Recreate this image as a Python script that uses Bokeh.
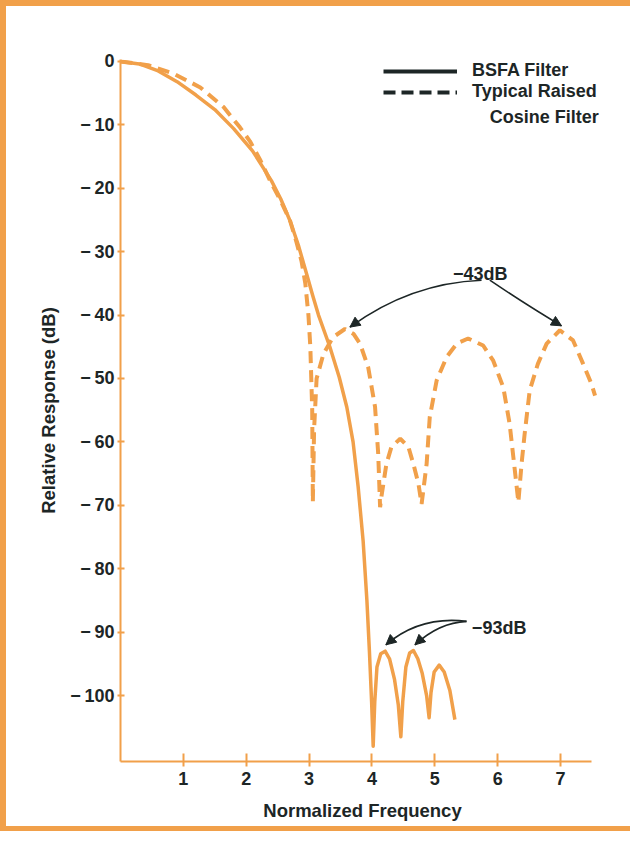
from bokeh.plotting import figure
from bokeh.models import FixedTicker, Legend, LegendItem, Label, Arrow, NormalHead
from bokeh.embed import file_html
from bokeh.resources import INLINE

# ---------------- data ----------------
bsfa_x = [0, 0.3, 0.6, 0.9, 1.2, 1.5, 1.8, 2.1, 2.4, 2.55, 2.7, 2.83, 2.96, 3.06, 3.15, 3.33,
          3.48, 3.60, 3.70, 3.78, 3.86, 3.92, 3.96, 3.995, 4.02, 4.045, 4.08, 4.14, 4.21,
          4.28, 4.36, 4.42, 4.46, 4.49, 4.54, 4.60, 4.66, 4.73, 4.80, 4.87, 4.91, 4.94,
          4.99, 5.07, 5.15, 5.24, 5.32]
bsfa_db = [0, -0.4, -1.5, -3.2, -5.3, -7.6, -10.6, -14.1, -18.8, -21.7, -25.2, -29.0, -33.5,
           -37.0, -40.0, -45.0, -49.8, -54.5, -60.0, -67.0, -75.6, -85.0, -93.0, -101.0,
           -108.0, -101.0, -95.5, -93.4, -93.0, -94.2, -97.5, -101.5, -106.5, -101.0, -95.5,
           -93.3, -92.9, -94.2, -96.5, -100.0, -103.5, -99.5, -96.3, -95.2, -96.3, -99.2,
           -103.8]

rc_x = [0, 0.44, 0.84, 1.27, 1.64, 1.90, 2.06, 2.22, 2.38, 2.55, 2.70, 2.80, 2.88, 2.94,
        2.99, 3.02, 3.05, 3.06, 3.08, 3.12, 3.23, 3.38, 3.57, 3.71, 3.81, 3.94, 4.05, 4.10,
        4.13, 4.15, 4.23, 4.31, 4.45, 4.58, 4.66, 4.74, 4.79, 4.87, 4.92, 5.03, 5.19, 5.35,
        5.53, 5.77, 5.93, 6.09, 6.19, 6.25, 6.33, 6.38, 6.43, 6.51, 6.64, 6.78, 6.99, 7.20,
        7.36, 7.49, 7.55]
rc_db = [0, -0.6, -1.9, -4.1, -7.2, -10.4, -12.6, -15.5, -18.8, -22.0, -25.2, -28.5, -31.5,
         -35.0, -40.0, -45.0, -55.0, -69.5, -58.0, -50.0, -46.1, -43.5, -42.2, -43.0, -44.5,
         -48.2, -54.5, -61.9, -70.3, -68.7, -63.5, -60.8, -59.5, -60.8, -63.5, -66.6, -69.8,
         -63.5, -56.1, -50.3, -46.6, -44.5, -43.7, -44.8, -47.2, -51.4, -57.1, -62.4, -69.5,
         -63.5, -58.7, -51.9, -47.7, -44.5, -42.4, -44.0, -47.7, -50.8, -52.7]

x_ticks = [1, 2, 3, 4, 5, 6, 7]
x_tick_labels = ["1", "2", "3", "4", "5", "6", "7"]
y_ticks = [0, -10, -20, -30, -40, -50, -60, -70, -80, -90, -100]
y_tick_labels = ["0", "\u2212\u200910", "\u2212\u200920", "\u2212\u200930", "\u2212\u200940",
                 "\u2212\u200950", "\u2212\u200960", "\u2212\u200970", "\u2212\u200980",
                 "\u2212\u200990", "\u2212\u2009100"]

legend_labels = ["BSFA Filter", "Typical Raised", "Cosine Filter"]

# annotations: label text / position, curved arrows (start, control, tip)
ann_text = ["\u221243dB", "\u221293dB"]
ann_x = [5.29, 5.59]
ann_y = [-33.5, -89.3]
arr_x0 = [5.744, 5.875, 5.505, 5.505]
arr_y0 = [-34.5, -34.5, -88.3, -88.3]
arr_cx = [4.607, 6.473, 4.767, 5.068]
arr_cy = [-34.96, -38.5, -87.4, -88.5]
arr_x1 = [3.65, 7.016, 4.222, 4.684]
arr_y1 = [-41.9, -41.7, -92.0, -92.0]

# ---------------- style ----------------
ORANGE = "#F1A04A"
INK = "#1d2626"
FONT = "Liberation Sans"

p = figure(width=630, height=831, x_range=(0, 7.7), y_range=(-110.4, 0.3),
           output_backend="svg", toolbar_location=None,
           min_border_left=114, min_border_right=32, min_border_top=53, min_border_bottom=76,
           background_fill_color="white", border_fill_color="white", outline_line_color=None)
p.styles = {"border-left": f"6px solid {ORANGE}", "border-top": f"6px solid {ORANGE}",
            "border-bottom": f"5px solid {ORANGE}"}
p.xgrid.grid_line_color = None
p.ygrid.grid_line_color = None

xa = p.xaxis[0]
ya = p.yaxis[0]
xa.bounds = (0, 7.5)
xa.ticker = FixedTicker(ticks=x_ticks, minor_ticks=[])
ya.ticker = FixedTicker(ticks=y_ticks, minor_ticks=[])
xa.major_label_overrides = {t: l for t, l in zip(x_ticks, x_tick_labels)}
ya.major_label_overrides = {t: l for t, l in zip(y_ticks, y_tick_labels)}
for ax in (xa, ya):
    ax.axis_line_color = ORANGE
    ax.axis_line_width = 2
    ax.major_tick_line_color = ORANGE
    ax.major_tick_line_width = 2
    ax.minor_tick_line_color = None
    ax.major_label_text_font = FONT
    ax.major_label_text_font_style = "bold"
    ax.major_label_text_font_size = "18px"
    ax.major_label_text_color = INK
    ax.axis_label_text_font = FONT
    ax.axis_label_text_font_style = "bold"
    ax.axis_label_text_font_size = "18.5px"
    ax.axis_label_text_color = INK
xa.major_tick_in = 8
xa.major_tick_out = 5
xa.major_label_standoff = 5
xa.axis_label = "Normalized Frequency"
xa.axis_label_standoff = 12
ya.major_tick_in = 4
ya.major_tick_out = 3
ya.major_label_standoff = 3
ya.axis_label = "Relative Response (dB)"
ya.axis_label_standoff = 8

# curves
p.line(rc_x, rc_db, line_color=ORANGE, line_width=4, line_dash="12 7")
p.line(bsfa_x, bsfa_db, line_color=ORANGE, line_width=3.5, line_join="round")

# legend (black swatches; renderers hold no drawable data)
nan = float("nan")
r1 = p.line(x=[nan], y=[nan], line_color=INK, line_width=4)
r2 = p.line(x=[nan], y=[nan], line_color=INK, line_width=4, line_dash="12 6")
legend = Legend(items=[LegendItem(label=legend_labels[0], renderers=[r1]),
                       LegendItem(label=legend_labels[1], renderers=[r2])],
                location=(263, 659), orientation="vertical", glyph_width=74, glyph_height=20,
                label_height=20, label_standoff=15, spacing=0, padding=0, margin=0,
                border_line_color=None, background_fill_alpha=0,
                label_text_font=FONT, label_text_font_style="bold",
                label_text_font_size="18px", label_text_color=INK)
p.add_layout(legend)
p.add_layout(Label(x=5.876, y=-8.79, text=legend_labels[2], text_font=FONT,
                   text_font_style="bold", text_font_size="18px", text_color=INK,
                   text_align="left", text_baseline="alphabetic"))

# annotations
for t, x, y in zip(ann_text, ann_x, ann_y):
    p.add_layout(Label(x=x, y=y, text=t, text_font=FONT, text_font_style="bold",
                       text_font_size="18px", text_color=INK, text_align="left",
                       text_baseline="alphabetic"))
p.quadratic(x0=arr_x0, y0=arr_y0, x1=arr_x1, y1=arr_y1, cx=arr_cx, cy=arr_cy,
            line_color=INK, line_width=1.6)
for x1, y1, cx, cy in zip(arr_x1, arr_y1, arr_cx, arr_cy):
    xs = x1 - 0.12 * (x1 - cx)
    ys = y1 - 0.12 * (y1 - cy)
    p.add_layout(Arrow(x_start=xs, y_start=ys, x_end=x1, y_end=y1, line_color=INK,
                       line_width=1.6,
                       end=NormalHead(size=10, fill_color=INK, line_color=INK, line_width=1)))

open("out.html", "w").write(file_html(p, INLINE))
